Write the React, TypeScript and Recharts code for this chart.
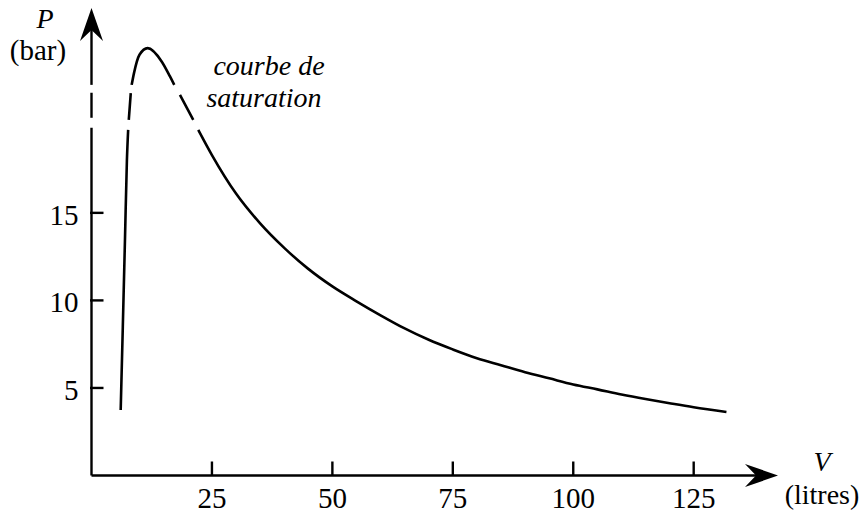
import { LineChart, Line, XAxis, YAxis, ReferenceLine } from "recharts";

// V (litres) and P (bar) along the saturation curve; null = break in the drawn line
const volumes = [
  6.06, 6.5, 6.95, 7.35, 7.61, 7.68, 7.74, 8.15, 8.25, 8.34, 8.82, 9.96, 11.66,
  14.56, 16.29, 17.18, 17.8, 18.36, 21.12, 21.6, 22.16, 25, 30, 35, 40, 45, 50,
  55, 60, 65, 70, 75, 80, 85, 90, 95, 100, 105, 110, 115, 120, 125, 131.8,
];
const pressures: (number | null)[] = [
  3.74, 8.5, 13.5, 18.0, 19.74, null, 20.31, 21.84, null, 22.31, 22.98, 24.03,
  24.41, 23.65, 22.79, 22.31, null, 21.74, 20.31, null, 19.74, 18.3, 16.1,
  14.4, 13.0, 11.8, 10.8, 9.95, 9.15, 8.4, 7.75, 7.2, 6.7, 6.3, 5.9, 5.55, 5.2,
  4.92, 4.63, 4.37, 4.13, 3.9, 3.63,
];

const xTicks = [25, 50, 75, 100, 125];
const yTicks = [5, 10, 15];
const xMax = 142.5;
const yMax = 26.7;

// broken vertical axis: [from, to] in bar
const yAxisPieces = [
  [0, 19.86],
  [20.43, 21.86],
];
const yAxisTop = 22.31;

const data = volumes.map((v, i) => ({ v, p: pressures[i] }));

const font = "Liberation Serif, Tinos, Times New Roman, DejaVu Serif, serif";
const textStyle = { fontFamily: font };

function ArrowLine(props: any) {
  const { x1, y1, x2, y2 } = props;
  const dx = x2 - x1;
  const dy = y2 - y1;
  const len = Math.hypot(dx, dy) || 1;
  const ux = dx / len;
  const uy = dy / len;
  const L = 33;
  const W = 11.5;
  const N = 22;
  const bx = x2 - ux * L;
  const by = y2 - uy * L;
  const nx = x2 - ux * N;
  const ny = y2 - uy * N;
  const pts = [
    [x2, y2],
    [bx - uy * W, by + ux * W],
    [nx, ny],
    [bx + uy * W, by - ux * W],
  ]
    .map((p) => p.join(","))
    .join(" ");
  return (
    <g>
      <line x1={x1} y1={y1} x2={nx} y2={ny} stroke="#000" strokeWidth={2.4} />
      <polygon points={pts} fill="#000" />
    </g>
  );
}

function PlainLine(props: any) {
  const { x1, y1, x2, y2 } = props;
  return <line x1={x1} y1={y1} x2={x2} y2={y2} stroke="#000" strokeWidth={2.4} />;
}

function XTick(props: any) {
  const { x, y, payload } = props;
  return (
    <g>
      <line x1={x} y1={y} x2={x} y2={y - 14} stroke="#000" strokeWidth={2.4} />
      <text x={x} y={y + 32} textAnchor="middle" style={textStyle} fontSize={29} fill="#000">
        {payload.value}
      </text>
    </g>
  );
}

function YTick(props: any) {
  const { x, y, payload } = props;
  return (
    <g>
      <line x1={x - 1.5} y1={y} x2={x + 12} y2={y} stroke="#000" strokeWidth={2.4} />
      <text x={x - 13} y={y + 12} textAnchor="end" style={textStyle} fontSize={29} fill="#000">
        {payload.value}
      </text>
    </g>
  );
}

export default function App() {
  return (
    <div style={{ position: "absolute", left: 0, top: 0, background: "#fff" }}>
      <LineChart
        width={866}
        height={515}
        data={data}
        margin={{ top: 8, right: 88, bottom: 38.5, left: 90.5 }}
      >
        <XAxis
          dataKey="v"
          type="number"
          domain={[0, xMax]}
          ticks={xTicks}
          interval={0}
          height={1}
          tickSize={0}
          tickMargin={0}
          axisLine={false}
          tickLine={false}
          tick={<XTick />}
          allowDataOverflow
        />
        <YAxis
          type="number"
          domain={[0, yMax]}
          ticks={yTicks}
          interval={0}
          width={1}
          tickSize={0}
          tickMargin={0}
          axisLine={false}
          tickLine={false}
          tick={<YTick />}
          allowDataOverflow
        />
        <ReferenceLine
          segment={[{ x: 0, y: 0 }, { x: xMax, y: 0 }]}
          ifOverflow="visible"
          shape={(p: any) => <ArrowLine {...p} />}
        />
        {yAxisPieces.map(([a, b], i) => (
          <ReferenceLine
            key={i}
            segment={[{ x: 0, y: a }, { x: 0, y: b }]}
            ifOverflow="visible"
            shape={(p: any) => <PlainLine {...p} />}
          />
        ))}
        <ReferenceLine
          segment={[{ x: 0, y: yAxisTop }, { x: 0, y: yMax }]}
          ifOverflow="visible"
          shape={(p: any) => <ArrowLine {...p} />}
        />
        <Line
          dataKey="p"
          type="monotone"
          stroke="#000"
          strokeWidth={2.6}
          dot={false}
          activeDot={false}
          connectNulls={false}
          isAnimationActive={false}
        />
        <text x={45} y={28} textAnchor="middle" style={textStyle} fontStyle="italic" fontSize={28}>
          P
        </text>
        <text x={38} y={60} textAnchor="middle" style={textStyle} fontSize={29}>
          (bar)
        </text>
        <text x={269} y={75} textAnchor="middle" style={textStyle} fontStyle="italic" fontSize={28}>
          courbe de
        </text>
        <text x={264} y={107} textAnchor="middle" style={textStyle} fontStyle="italic" fontSize={28}>
          saturation
        </text>
        <text x={822} y={471} textAnchor="middle" style={textStyle} fontStyle="italic" fontSize={28}>
          V
        </text>
        <text x={822} y={504} textAnchor="middle" style={textStyle} fontSize={28}>
          (litres)
        </text>
      </LineChart>
    </div>
  );
}
